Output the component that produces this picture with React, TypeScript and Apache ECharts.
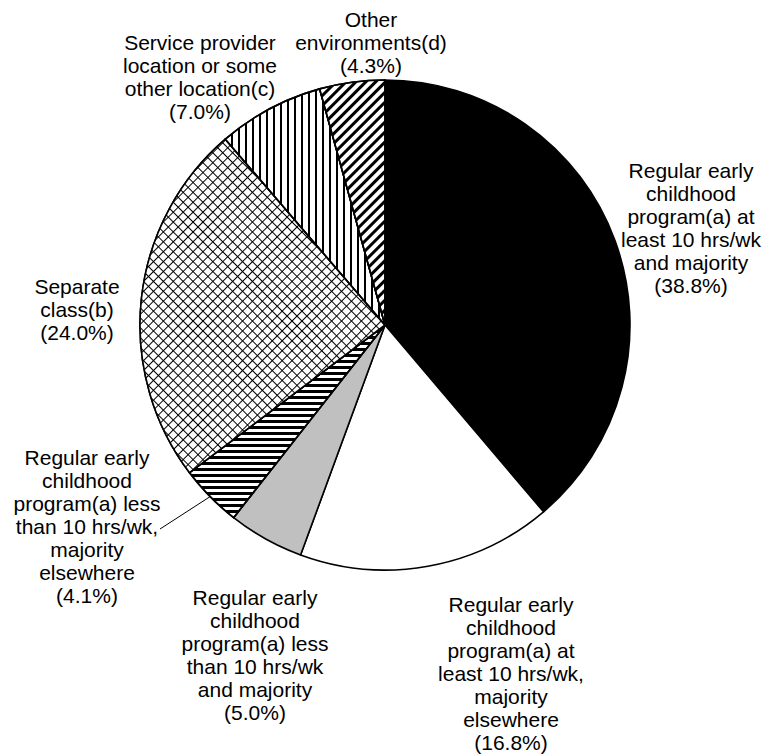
import React, { useEffect, useRef } from "react";
import * as echarts from "echarts";

const CATEGORIES: string[] = [
  "Regular early\nchildhood\nprogram(a) at\nleast 10 hrs/wk\nand majority",
  "Regular early\nchildhood\nprogram(a) at\nleast 10 hrs/wk,\nmajority\nelsewhere",
  "Regular early\nchildhood\nprogram(a) less\nthan 10 hrs/wk\nand majority",
  "Regular early\nchildhood\nprogram(a) less\nthan 10 hrs/wk,\nmajority\nelsewhere",
  "Separate\nclass(b)",
  "Service provider\nlocation or some\nother location(c)",
  "Other\nenvironments(d)",
];
const VALUES: number[] = [38.8, 16.8, 5.0, 4.1, 24.0, 7.0, 4.3];

// label anchor (center) positions in pixels
const LABEL_POS: [number, number][] = [
  [691, 228],
  [511, 673],
  [255, 655],
  [87, 526],
  [77, 309],
  [200, 77],
  [371, 42],
];

const FONT = 'Arial, "Liberation Sans", Helvetica, sans-serif';

const STYLES: any[] = [
  { color: "#000000" },
  { color: "#ffffff" },
  { color: "#c0c0c0" },
  {
    color: "#ffffff",
    decal: {
      symbol: "rect",
      symbolSize: 1,
      symbolKeepAspect: false,
      color: "#000000",
      dashArrayX: [10, 0],
      dashArrayY: [3, 3],
      rotation: 0,
    },
  },
  {
    color: "#000000",
    decal: {
      symbol: "rect",
      symbolSize: 1,
      symbolKeepAspect: false,
      color: "#ffffff",
      dashArrayX: [5.8, 1],
      dashArrayY: [5.8, 1],
      rotation: Math.PI / 4,
    },
  },
  {
    color: "#ffffff",
    decal: {
      symbol: "rect",
      symbolSize: 1,
      symbolKeepAspect: false,
      color: "#000000",
      dashArrayX: [2, 5],
      dashArrayY: [10, 0],
      rotation: 0,
    },
  },
  {
    color: "#ffffff",
    decal: {
      symbol: "rect",
      symbolSize: 1,
      symbolKeepAspect: false,
      color: "#000000",
      dashArrayX: [10, 0],
      dashArrayY: [3, 3.5],
      rotation: -Math.PI / 4,
    },
  },
];

export default function App() {
  const ref = useRef<HTMLDivElement>(null);
  useEffect(() => {
    if (!ref.current) return;
    const chart = echarts.init(ref.current, null, { renderer: "svg" });
    const data = VALUES.map((v, i) => ({
      name: CATEGORIES[i],
      value: v,
      itemStyle: { ...STYLES[i], borderColor: "#000", borderWidth: 1.6 },
      labelLine: { show: i === 3 },
    }));
    chart.setOption({
      animation: false,
      backgroundColor: "#ffffff",
      series: [
        {
          type: "pie",
          center: [385, 325],
          radius: 245,
          startAngle: 90,
          clockwise: true,
          avoidLabelOverlap: false,
          silent: true,
          data,
          label: {
            show: true,
            position: "outside",
            formatter: (p: any) => `${p.name}\n(${p.value.toFixed(1)}%)`,
            fontFamily: FONT,
            fontSize: 21,
            lineHeight: 23,
            color: "#000",
            align: "center",
          },
          labelLine: {
            show: false,
            length: 10,
            length2: 10,
            lineStyle: { color: "#000", width: 1 },
          },
          labelLayout: (params: any) => {
            const i = params.dataIndex;
            const p = LABEL_POS[i];
            const out: any = {
              x: p[0],
              y: p[1],
              align: "center",
              verticalAlign: "middle",
            };
            if (i === 3 && params.labelLinePoints) {
              out.labelLinePoints = [
                params.labelLinePoints[0],
                [p[0] + 73, p[1] + 3],
              ];
            }
            return out;
          },
          emphasis: { disabled: true },
        },
      ],
    });
    return () => chart.dispose();
  }, []);
  return (
    <div
      ref={ref}
      style={{ position: "absolute", left: 0, top: 0, width: 772, height: 755, background: "#fff" }}
    />
  );
}
